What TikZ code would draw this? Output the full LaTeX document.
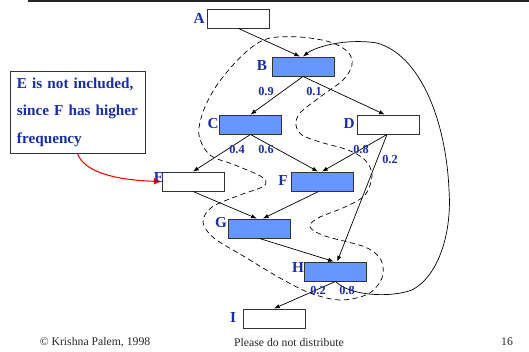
\documentclass[tikz,border=0pt]{standalone}
\usepackage{fontspec}
\setmainfont{Liberation Serif}
\usetikzlibrary{arrows.meta}
\definecolor{boxblue}{RGB}{102,150,255}
\definecolor{txtblue}{RGB}{25,45,165}
\tikzset{
    blk/.style     = {draw=black!80, fill=white, line width=0.8pt,
                      minimum width=1.86cm, minimum height=0.57cm, inner sep=0pt},
    hot/.style     = {blk, fill=boxblue},
    tag/.style     = {text=txtblue, font=\fontsize{13}{13}\selectfont\bfseries, inner sep=0pt},
    prob/.style    = {text=txtblue, font=\fontsize{10.5}{10.5}\selectfont\bfseries, inner sep=0pt},
    note/.style    = {draw=black!80, line width=0.8pt, text=txtblue, align=left,
                      font=\fontsize{13}{23.5}\selectfont\bfseries,
                      text width=3.63cm, minimum height=2.46cm, inner xsep=0.21cm},
    foot/.style    = {font=\fontsize{10}{10}\selectfont, text=black!85, inner sep=0pt},
    lig/.style     = {-{Latex[length=1.7mm, width=1.3mm]}, semithick},
    hotpath/.style = {dashed, dash pattern=on 4.5pt off 3pt, semithick},
}
\begin{document}
\begin{tikzpicture}[x=0.03cm, y=-0.03cm]
    \useasboundingbox (0,0) rectangle (529,351);
    % rule at the top
    \draw[line width=1.6pt, black!85] (28,1) -- (529,1);
    % blocks
    \node[blk] (a) at (238.5,18.5) {};
    \node[hot] (b) at (303,66.5) {};
    \node[hot] (c) at (250.5,124.5) {};
    \node[blk] (d) at (388,124.5) {};
    \node[blk] (e) at (193,181.5) {};
    \node[hot] (f) at (322,181.5) {};
    \node[hot] (g) at (259.5,228.5) {};
    \node[hot] (h) at (335.5,271.5) {};
    \node[blk] (i) at (274,318.5) {};
    % remark on E
    \node[note] (note) at (77.5,112) {E is not included,\\since F has higher\\frequency};
    \draw[red, line width=0.9pt, -{Latex[length=2.3mm, width=2.1mm]}] (note.south)
        .. controls (84,172) and (115,180) .. (e.west);
    % block names
    \node[tag] (a-lbl) at (199,18) {A};
    \node[tag] (b-lbl) at (262,66) {B};
    \node[tag] (c-lbl) at (213,124) {C};
    \node[tag] (d-lbl) at (349,124) {D};
    \node[tag] (e-lbl) at (159,178) {E};
    \node[tag] (f-lbl) at (283,181) {F};
    \node[tag] (g-lbl) at (221,223) {G};
    \node[tag] (h-lbl) at (298,268) {H};
    \node[tag] (i-lbl) at (233,318) {I};
    % control flow
    \draw[lig] (a.south) -- ([xshift=-0.09cm]b.north);
    \draw[lig] (b.south) -- (c.north);
    \draw[lig] (b.south) -- ([xshift=-0.1cm]d.north);
    \draw[lig] (c.south) -- (e.north);
    \draw[lig] (c.south) -- ([xshift=-0.12cm]f.north);
    \draw[lig] ([xshift=-0.03cm]d.south) -- (f.north);
    \draw[lig] ([xshift=-0.03cm]d.south) -- ([xshift=0.05cm]h.north);
    \draw[lig] (e.south) -- ([xshift=-0.08cm]g.north);
    \draw[lig] ([xshift=-0.1cm]f.south) -- ([xshift=0.1cm]g.north);
    \draw[lig] (g.south) -- ([xshift=-0.05cm]h.north);
    \draw[lig] (h.south) -- (i.north);
    % back edge H -> B
    \draw[lig] (h.south) .. controls (350,296) and (390,298) .. (412,290)
        .. controls (440,275) and (452,230) .. (449,190)
        .. controls (446,120) and (420,55) .. (377,43)
        .. controls (345,38) and (315,47) .. (b.north);
    % edge frequencies
    \node[prob] (p-bc) at (266,91) {0.9};
    \node[prob] (p-bd) at (314,91) {0.1};
    \node[prob] (p-ce) at (237,149) {0.4};
    \node[prob] (p-cf) at (266,149) {0.6};
    \node[prob] (p-df) at (361,149) {0.8};
    \node[prob] (p-dh) at (390,159) {0.2};
    \node[prob] (p-hi) at (318,290) {0.2};
    \node[prob] (p-hb) at (347,290) {0.8};
    % selected trace
    \draw[hotpath] plot[smooth cycle, tension=0.55] coordinates {
        (270,38) (300,37) (330,42) (348,52) (352,65) (343,80) (320,97)
        (300,113) (296,125) (302,135) (320,142) (348,150) (365,160)
        (372,175) (365,195) (345,207) (318,218) (310,227) (325,236)
        (365,247) (381,260) (382,278) (368,294) (340,300) (310,293)
        (280,278) (245,257) (214,238) (203,222) (212,207) (240,195)
        (264,186) (262,177) (235,165) (210,155) (199,135) (203,112)
        (215,88) (233,65) (252,47)};
    % footer
    \node[foot] (copy) at (95,342) {© Krishna Palem, 1998};
    \node[foot] (dist) at (289,342) {Please do not distribute};
    \node[foot] (page) at (507,342) {16};
\end{tikzpicture}
\end{document}
